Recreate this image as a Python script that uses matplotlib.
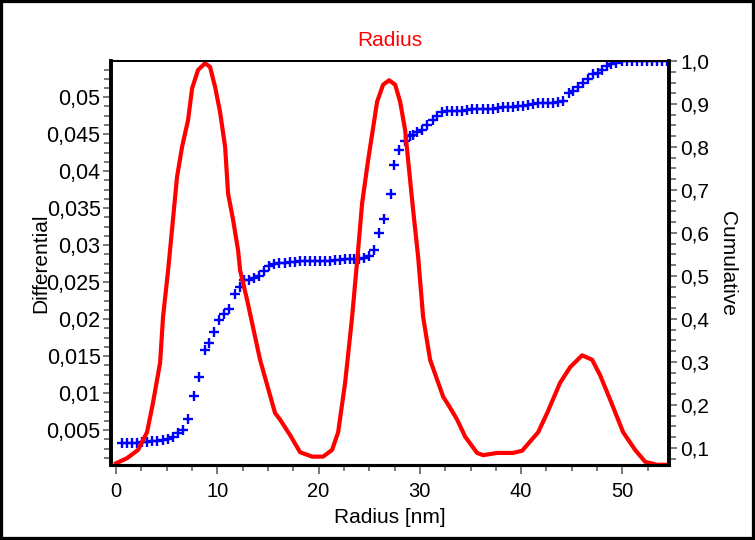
import matplotlib
matplotlib.use("Agg")
import matplotlib.pyplot as plt
from matplotlib.ticker import FixedLocator, MultipleLocator
from matplotlib.patches import Rectangle

plt.rcParams['font.family'] = ['Liberation Sans', 'DejaVu Sans']
plt.rcParams['font.size'] = 14

# differential distribution (red line, left axis)
diff_r = [0.0, 1.09, 2.17, 3.06, 3.65, 4.35, 4.64, 5.14, 5.33, 6.02, 6.52, 7.11,
          7.51, 8.10, 8.79, 9.28, 9.78, 10.27, 10.77, 11.06, 11.56, 12.05, 12.25,
          12.94, 14.22, 15.70, 16.20, 17.19, 18.17, 19.36, 20.44, 21.33, 21.93,
          22.62, 23.31, 23.90, 24.30, 24.89, 25.78, 26.37, 26.96, 27.56, 28.05,
          28.54, 28.84, 29.33, 29.83, 30.32, 31.01, 32.30, 32.99, 33.68, 34.47,
          35.65, 36.25, 37.63, 39.21, 40.10, 41.68, 42.57, 43.85, 44.84, 46.02,
          47.01, 47.80, 48.79, 50.07, 51.26, 52.25, 53.43, 54.6]
diff_v = [0.0005, 0.0012, 0.0023, 0.0047, 0.0087, 0.0141, 0.0203, 0.0266, 0.0293,
          0.0392, 0.0433, 0.0469, 0.0512, 0.0537, 0.0546, 0.0541, 0.0514, 0.0480,
          0.0433, 0.0370, 0.0334, 0.0293, 0.0266, 0.0226, 0.0145, 0.0073, 0.0064,
          0.0043, 0.0020, 0.0014, 0.0014, 0.0023, 0.0047, 0.0114, 0.0203, 0.0293,
          0.0357, 0.0415, 0.0494, 0.0517, 0.0523, 0.0517, 0.0494, 0.0456, 0.0415,
          0.0348, 0.0284, 0.0203, 0.0145, 0.0095, 0.0080, 0.0064, 0.0041, 0.0019,
          0.0016, 0.0019, 0.0019, 0.0022, 0.0047, 0.0073, 0.0114, 0.0135, 0.0151,
          0.0145, 0.0124, 0.0091, 0.0047, 0.0023, 0.0007, 0.0003, 0.0003]

# cumulative distribution (blue crosses, right axis)
cum_r = [0.56, 1.06, 1.55, 2.04, 2.54, 3.03, 3.56, 4.05, 4.59, 5.14, 5.63, 6.07,
         6.65, 7.14, 7.70, 8.20, 8.74, 9.14, 9.68, 10.17, 10.67, 11.16, 11.70,
         12.20, 12.64, 13.09, 13.58, 14.07, 14.57, 15.06, 15.56, 16.10, 16.64,
         17.19, 17.68, 18.17, 18.67, 19.16, 19.65, 20.15, 20.64, 21.14, 21.63,
         22.12, 22.62, 23.06, 23.51, 24.00, 24.44, 24.94, 25.48, 25.93, 26.47,
         27.13, 27.41, 27.93, 28.51, 29.01, 29.36, 29.76, 30.22, 30.72, 31.26,
         31.70, 32.17, 32.66, 33.15, 33.65, 34.14, 34.64, 35.16, 35.68, 36.22,
         36.74, 37.26, 37.76, 38.25, 38.75, 39.24, 39.73, 40.23, 40.64, 41.16,
         41.63, 42.14, 42.64, 43.11, 43.60, 44.10, 44.69, 45.14, 45.66, 46.15,
         46.65, 47.08, 47.54, 47.97, 48.46, 48.89, 49.38, 49.95, 50.44, 50.93,
         51.41, 51.92, 52.41, 52.91, 53.40, 53.89, 54.39]
cum_v = [0.1117, 0.1117, 0.1117, 0.1117, 0.1140, 0.1140, 0.1156, 0.1168, 0.1191,
         0.1214, 0.1249, 0.1336, 0.1413, 0.1662, 0.2212, 0.2641, 0.3277, 0.3441,
         0.3690, 0.3977, 0.4117, 0.4226, 0.4583, 0.4734, 0.4893, 0.4909, 0.4949,
         0.5002, 0.5103, 0.5219, 0.5270, 0.5294, 0.5305, 0.5322, 0.5329, 0.5336,
         0.5336, 0.5336, 0.5336, 0.5336, 0.5340, 0.5352, 0.5359, 0.5375, 0.5387,
         0.5392, 0.5392, 0.5399, 0.5422, 0.5452, 0.5608, 0.5993, 0.6324, 0.6907,
         0.7590, 0.7928, 0.8149, 0.8259, 0.8289, 0.8352, 0.8406, 0.8522, 0.8627,
         0.8720, 0.8809, 0.8832, 0.8837, 0.8841, 0.8848, 0.8855, 0.8872, 0.8883,
         0.8888, 0.8895, 0.8895, 0.8911, 0.8930, 0.8935, 0.8935, 0.8949, 0.8965,
         0.8988, 0.9005, 0.9012, 0.9012, 0.9023, 0.9028, 0.9051, 0.9065, 0.9256,
         0.9303, 0.9392, 0.9494, 0.9571, 0.9688, 0.9727, 0.9788, 0.9881, 0.9921,
         0.9956, 1.0, 1.0, 1.0, 1.0, 1.0, 1.0, 1.0, 1.0, 1.0, 1.0]

x_ticks = [0, 10, 20, 30, 40, 50]
left_ticks = [0.005, 0.01, 0.015, 0.02, 0.025, 0.03, 0.035, 0.04, 0.045, 0.05]
left_labels = ['0,005', '0,01', '0,015', '0,02', '0,025', '0,03', '0,035',
               '0,04', '0,045', '0,05']
right_ticks = [0.1, 0.2, 0.3, 0.4, 0.5, 0.6, 0.7, 0.8, 0.9, 1.0]
right_labels = ['0,1', '0,2', '0,3', '0,4', '0,5', '0,6', '0,7', '0,8', '0,9', '1,0']

fig = plt.figure(figsize=(7.55, 5.4), dpi=100)
ax = fig.add_axes([0.147, 0.1389, 0.7391, 0.7481])
ax2 = ax.twinx()

ax2.plot(cum_r, cum_v, linestyle='none', marker='+', ms=7, mew=1.7, color='#0000ff')
ax.plot(diff_r, diff_v, color='#ff0000', lw=3.0, solid_joinstyle='round')
ax.set_zorder(ax2.get_zorder() + 1)
ax.patch.set_visible(False)

ax.set_xlim(-0.5, 54.6)
ax.set_ylim(0.00027, 0.0549)
ax2.set_ylim(0.06, 1.0)

ax.xaxis.set_major_locator(FixedLocator(x_ticks))
ax.xaxis.set_minor_locator(MultipleLocator(2.5))
ax.yaxis.set_major_locator(FixedLocator(left_ticks))
ax.set_yticklabels(left_labels)
ax.yaxis.set_minor_locator(MultipleLocator(0.00125))
ax2.yaxis.set_major_locator(FixedLocator(right_ticks))
ax2.set_yticklabels(right_labels)
ax2.yaxis.set_minor_locator(MultipleLocator(0.025))

tick_col = '#555555'
ax.tick_params(axis='x', which='major', direction='out', length=6.5, width=1.1,
               color=tick_col, pad=6, labelsize=14.5)
ax.tick_params(axis='x', which='minor', direction='out', length=4.5, width=1.1,
               color=tick_col)
ax.tick_params(axis='y', which='major', direction='out', length=6, width=1.1,
               color=tick_col, pad=1.5, labelsize=15.5)
ax.tick_params(axis='y', which='minor', direction='out', length=5, width=1.1,
               color=tick_col)
ax2.tick_params(axis='y', which='major', direction='out', length=6, width=1.1,
                color=tick_col, pad=2, labelsize=15)
ax2.tick_params(axis='y', which='minor', direction='out', length=5, width=1.1,
                color=tick_col)

for a in (ax, ax2):
    a.spines['left'].set_linewidth(2.6)
    a.spines['right'].set_linewidth(2.6)
    a.spines['bottom'].set_linewidth(2.2)
    a.spines['top'].set_linewidth(1.4)

ax.set_title('Radius', color='#ff0000', fontsize=15, pad=11)
ax.set_xlabel('Radius [nm]', fontsize=15, labelpad=5)
ax.set_ylabel('Differential', fontsize=15, labelpad=-3)
ax2.set_ylabel('Cumulative', fontsize=15, rotation=-90, labelpad=20)

fig.patches.append(Rectangle((0, 0), 1, 1, transform=fig.transFigure,
                             fill=False, edgecolor='black', lw=4.5))

fig.savefig('out.png', dpi=100)
